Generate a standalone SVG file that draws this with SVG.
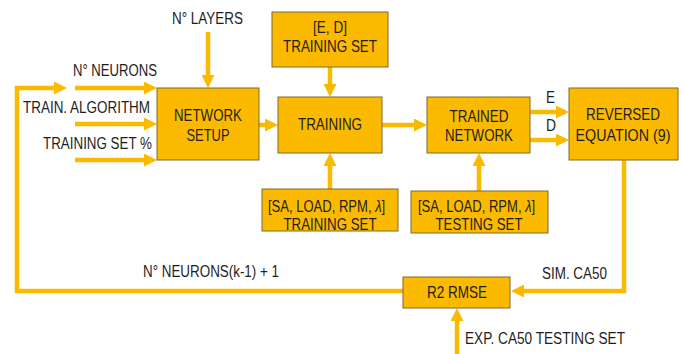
<svg xmlns="http://www.w3.org/2000/svg" width="683" height="354" viewBox="0 0 683 354">
<style>
.box{fill:#FBBA00;stroke:#7d6a2f;stroke-width:1}
.t{font-family:"Liberation Sans",Arial,sans-serif;font-size:17px;fill:#1e1e1e;text-anchor:middle}
.s{font-family:"Liberation Sans",Arial,sans-serif;font-size:16px;fill:#1e1e1e}
.i{font-style:italic}
.l{font-family:"Liberation Sans",Arial,sans-serif;font-size:16px;fill:#1e1e1e}
.c{fill:none;stroke:#FBBA00;stroke-width:4.5}
</style>
<defs>
<marker id="ah" viewBox="0 0 13 13" refX="0" refY="6.5" markerWidth="13" markerHeight="13" markerUnits="userSpaceOnUse" orient="auto">
<path d="M0,0 L13,6.5 L0,13 z" fill="#FBBA00"/>
</marker>
</defs>
<rect width="683" height="354" fill="#ffffff"/>
<g id="connectors">
<line class="c" x1="208" y1="32" x2="208" y2="75" marker-end="url(#ah)"/>
<polyline class="c" points="403,291 17,291 17,88 54,88" marker-end="url(#ah)"/>
<line class="c" x1="75" y1="88" x2="144" y2="88" marker-end="url(#ah)"/>
<line class="c" x1="75" y1="124" x2="144" y2="124" marker-end="url(#ah)"/>
<line class="c" x1="75" y1="160" x2="144" y2="160" marker-end="url(#ah)"/>
<line class="c" x1="259" y1="125" x2="265" y2="125" marker-end="url(#ah)"/>
<line class="c" x1="382" y1="125" x2="414" y2="125" marker-end="url(#ah)"/>
<line class="c" x1="330" y1="67" x2="330" y2="84" marker-end="url(#ah)"/>
<line class="c" x1="330" y1="189" x2="330" y2="166" marker-end="url(#ah)"/>
<line class="c" x1="479" y1="191" x2="479" y2="166" marker-end="url(#ah)"/>
<line class="c" x1="530" y1="112" x2="556" y2="112" marker-end="url(#ah)"/>
<line class="c" x1="530" y1="140" x2="556" y2="140" marker-end="url(#ah)"/>
<polyline class="c" points="624,160 624,291 524,291" marker-end="url(#ah)"/>
<line class="c" x1="457" y1="354" x2="457" y2="321" marker-end="url(#ah)"/>
</g>
<g id="labels">
<text class="l" x="172" y="24" textLength="71" lengthAdjust="spacingAndGlyphs">N° LAYERS</text>
<text class="l" x="73" y="76" textLength="84" lengthAdjust="spacingAndGlyphs">N° NEURONS</text>
<text class="l" x="23" y="113" textLength="127" lengthAdjust="spacingAndGlyphs">TRAIN. ALGORITHM</text>
<text class="l" x="43" y="149" textLength="109" lengthAdjust="spacingAndGlyphs">TRAINING SET %</text>
<text class="l" x="546" y="103" textLength="9" lengthAdjust="spacingAndGlyphs">E</text>
<text class="l" x="546" y="131" textLength="10" lengthAdjust="spacingAndGlyphs">D</text>
<text class="l" x="143" y="277" textLength="136" lengthAdjust="spacingAndGlyphs">N° NEURONS(k-1) + 1</text>
<text class="l" x="542" y="279" textLength="65" lengthAdjust="spacingAndGlyphs">SIM. CA50</text>
<text class="l" x="465" y="344" textLength="160" lengthAdjust="spacingAndGlyphs">EXP. CA50 TESTING SET</text>
</g>
<g id="network-setup">
<rect class="box" x="157" y="88" width="102" height="72"/>
<text class="t" x="208" y="121" textLength="68" lengthAdjust="spacingAndGlyphs">NETWORK</text>
<text class="t" x="208" y="141" textLength="43" lengthAdjust="spacingAndGlyphs">SETUP</text>
</g>
<g id="ed-training-set">
<rect class="box" x="272" y="12" width="116" height="55"/>
<text class="t" x="330" y="33" textLength="34" lengthAdjust="spacingAndGlyphs">[E, D]</text>
<text class="t" x="330" y="52" textLength="94" lengthAdjust="spacingAndGlyphs">TRAINING SET</text>
</g>
<g id="training">
<rect class="box" x="278" y="97" width="104" height="56"/>
<text class="t" x="330" y="130" textLength="64" lengthAdjust="spacingAndGlyphs">TRAINING</text>
</g>
<g id="trained-network">
<rect class="box" x="427" y="97" width="103" height="56"/>
<text class="t" x="479" y="122" textLength="59" lengthAdjust="spacingAndGlyphs">TRAINED</text>
<text class="t" x="479" y="141" textLength="68" lengthAdjust="spacingAndGlyphs">NETWORK</text>
</g>
<g id="reversed-equation">
<rect class="box" x="569" y="88" width="109" height="72"/>
<text class="t" x="623" y="120" textLength="74" lengthAdjust="spacingAndGlyphs">REVERSED</text>
<text class="t" transform="translate(623,141) scale(0.84,1)">EQUATION (9)</text>
</g>
<g id="sa-training-set">
<rect class="box" x="262" y="189" width="136" height="42"/>
<text class="s" transform="translate(268,212) scale(0.815,1)">[SA, LOAD, RPM, <tspan class="i">λ</tspan>]</text>
<text class="t" x="330" y="230" textLength="93" lengthAdjust="spacingAndGlyphs">TRAINING SET</text>
</g>
<g id="sa-testing-set">
<rect class="box" x="411" y="191" width="137" height="42"/>
<text class="s" transform="translate(418,212) scale(0.815,1)">[SA, LOAD, RPM, <tspan class="i">λ</tspan>]</text>
<text class="t" x="479" y="230" textLength="87" lengthAdjust="spacingAndGlyphs">TESTING SET</text>
</g>
<g id="r2-rmse">
<rect class="box" x="403" y="277" width="107" height="31"/>
<text class="t" x="457" y="298" textLength="60" lengthAdjust="spacingAndGlyphs">R2 RMSE</text>
</g>
</svg>
